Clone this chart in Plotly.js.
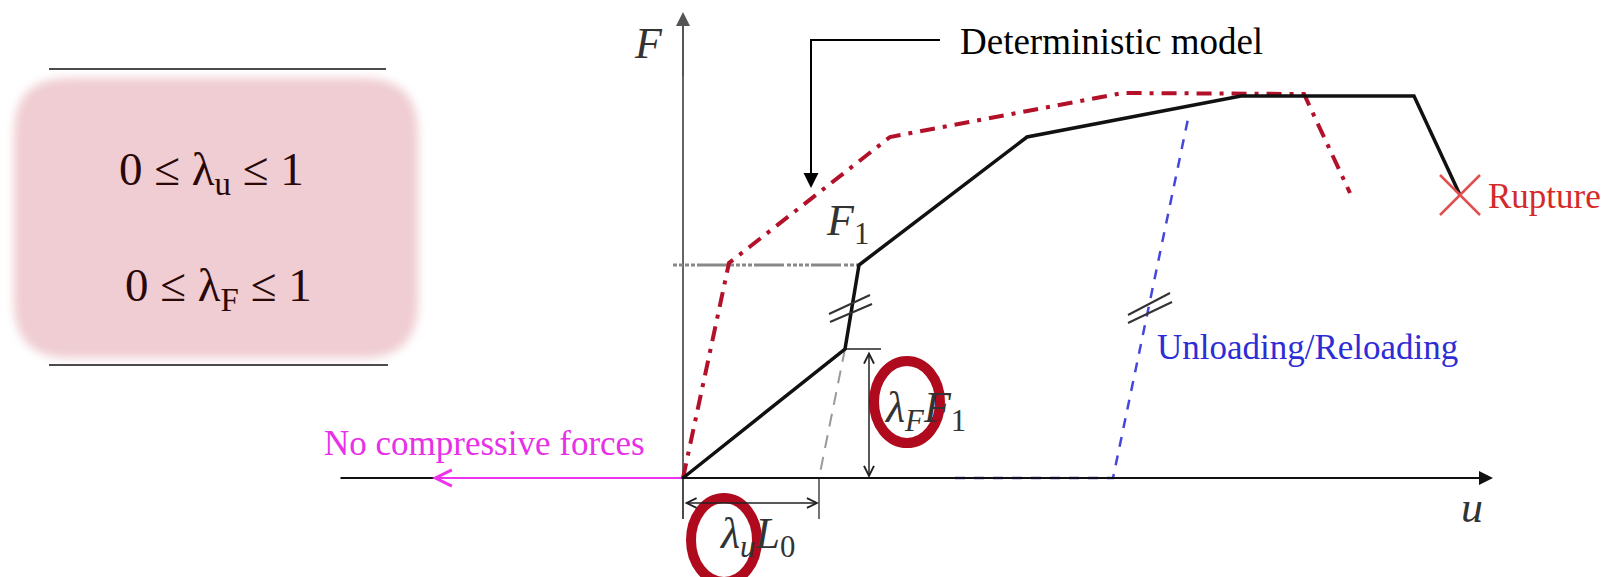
<!DOCTYPE html>
<html>
<head>
<meta charset="utf-8">
<script src="https://cdn.plot.ly/plotly-3.0.1.min.js"></script>
<style>
html,body{margin:0;padding:0;background:#fff;}
#chart{width:1611px;height:577px;}
</style>
</head>
<body>
<div id="chart"></div>
<script>
// ---- data (diagram units: u horizontal, F vertical) ----
const blackU = [0, 1.62, 1.76, 3.44, 5.58, 7.31, 7.77];
const blackF = [0, 1.29, 2.13, 3.41, 3.82, 3.82, 2.83];
const detU = [0, 0.46, 2.07, 4.40, 6.21, 6.67];
const detF = [0, 2.15, 3.41, 3.85, 3.84, 2.85];
const unloadU = [2.72, 4.30, 5.06];
const unloadF = [0, 0, 3.64];
const elasticU = [1.62, 1.36];
const elasticF = [1.29, 0];
const f1LevelU = [-0.10, 1.76];
const f1LevelF = [2.13, 2.13];
const lamFLevelU = [1.62, 1.98];
const lamFLevelF = [1.29, 1.29];
const blackBreakU = [1.46, 1.87, null, 1.47, 1.89];
const blackBreakF = [1.64, 1.83, null, 1.56, 1.74];
const blueBreakU = [4.45, 4.87, null, 4.45, 4.89];
const blueBreakF = [1.63, 1.85, null, 1.55, 1.76];
const dimTickU = [0, 0, null, 1.36, 1.36];
const dimTickF = [0, -0.41, null, 0, -0.41];
const leaderU = [2.57, 1.28, 1.28];
const leaderF = [4.38, 4.38, 2.98];
const ruptureU = [7.77];
const ruptureF = [2.83];
const yAxisU = [0, 0];
const yAxisF = [-0.41, 4.50];

const serif = 'Liberation Serif, Times New Roman, serif';

const traces = [
  {x: yAxisU, y: yAxisF, mode: 'lines', line: {color: '#666', width: 2}},
  {x: f1LevelU, y: f1LevelF, mode: 'lines', line: {color: '#888', width: 3, dash: '4px,2px,4px,2px,4px,2px,4px,2px,30px,3px'}},
  {x: lamFLevelU, y: lamFLevelF, mode: 'lines', line: {color: '#222', width: 1.5}},
  {x: dimTickU, y: dimTickF, mode: 'lines', line: {color: '#444', width: 1.5}},
  {x: elasticU, y: elasticF, mode: 'lines', line: {color: '#999', width: 2, dash: '13px,9px'}},
  {x: unloadU, y: unloadF, mode: 'lines', line: {color: '#4646dc', width: 2.5, dash: '10px,9px'}},
  {x: detU, y: detF, mode: 'lines', line: {color: '#b3102a', width: 4, dash: '15px,8px,4px,8px'}},
  {x: blackU, y: blackF, mode: 'lines', line: {color: '#111', width: 3.5}},
  {x: blackBreakU, y: blackBreakF, mode: 'lines', line: {color: '#333', width: 2}},
  {x: blueBreakU, y: blueBreakF, mode: 'lines', line: {color: '#333', width: 2}},
  {x: leaderU, y: leaderF, mode: 'lines', line: {color: '#000', width: 2}},
  {x: ruptureU, y: ruptureF, mode: 'markers', marker: {symbol: 'x-thin', size: 40, color: '#e05050', line: {color: '#e05050', width: 2.5}}}
];

function arrow(x, y, ax, ay, o) {
  return Object.assign({x: x, y: y, ax: ax, ay: ay, xref: 'x', yref: 'y', axref: 'x', ayref: 'y',
    text: '', showarrow: true, arrowhead: 2, arrowsize: 1.4, arrowwidth: 2, arrowcolor: '#000'}, o || {});
}
function label(x, y, text, o) {
  return Object.assign({x: x, y: y, xref: 'x', yref: 'y', text: text, showarrow: false,
    xanchor: 'center', yanchor: 'middle', font: {family: serif, size: 44, color: '#333'}}, o || {});
}

const annotations = [
  arrow(8.10, 0, -3.44, 0, {arrowcolor: '#111'}),
  arrow(0, 4.66, 0, 4.0, {arrowcolor: '#555'}),
  arrow(1.28, 2.90, 1.28, 3.3, {arrowsize: 1.5}),
  arrow(-2.51, 0, 0, 0, {arrowhead: 5, arrowsize: 1.6, arrowwidth: 2, arrowcolor: '#ee33ee'}),
  arrow(1.86, 0, 1.86, 1.28, {arrowhead: 5, arrowsize: 1.3, arrowwidth: 1.5, arrowcolor: '#222', arrowside: 'end+start'}),
  arrow(1.36, -0.25, 0, -0.25, {arrowhead: 5, arrowsize: 1.3, arrowwidth: 1.5, arrowcolor: '#222', arrowside: 'end+start'}),
  label(-0.35, 4.35, '<i>F</i>'),
  label(1.64, 2.55, '<i>F</i><sub>1</sub>'),
  label(7.89, -0.29, '<i>u</i>'),
  label(2.42, 0.68, '<i>λ<sub>F</sub>F</i><sub>1</sub>'),
  label(0.74, -0.58, '<i>λ<sub>u</sub>L</i><sub>0</sub>'),
  label(2.75, 4.37, 'Deterministic model', {xanchor: 'left', font: {family: serif, size: 37, color: '#000'}}),
  label(8.03, 2.82, 'Rupture', {xanchor: 'left', font: {family: serif, size: 35, color: '#d42a2a'}}),
  label(4.72, 1.31, 'Unloading/Reloading', {xanchor: 'left', font: {family: serif, size: 35, color: '#2d2dd6'}}),
  label(-3.61, 0.35, 'No compressive forces', {xanchor: 'left', font: {family: serif, size: 35, color: '#e830e8'}}),
  label(-4.72, 3.06, '0 ≤ λ<sub>u</sub> ≤ 1', {font: {family: serif, size: 47, color: '#2a0808'}}),
  label(-4.65, 1.90, '0 ≤ λ<sub>F</sub> ≤ 1', {font: {family: serif, size: 47, color: '#2a0808'}})
];

const bx0 = -6.69, bx1 = -2.65, by0 = 1.20, by1 = 4.00, r = 0.55;
const boxPath = `M${bx0 + r},${by1} L${bx1 - r},${by1} Q${bx1},${by1} ${bx1},${by1 - r} L${bx1},${by0 + r} Q${bx1},${by0} ${bx1 - r},${by0} L${bx0 + r},${by0} Q${bx0},${by0} ${bx0},${by0 + r} L${bx0},${by1 - r} Q${bx0},${by1} ${bx0 + r},${by1} Z`;

const shapes = [
  {type: 'path', path: boxPath, xref: 'x', yref: 'y', fillcolor: '#efcdd2', line: {width: 0}, layer: 'below'},
  {type: 'line', xref: 'x', yref: 'y', x0: -6.34, x1: -2.97, y0: 4.09, y1: 4.09, line: {color: '#111', width: 1.5}},
  {type: 'line', xref: 'x', yref: 'y', x0: -6.34, x1: -2.95, y0: 1.13, y1: 1.13, line: {color: '#111', width: 1.5}},
  {type: 'circle', xref: 'x', yref: 'y', x0: 2.24 - 0.33, x1: 2.24 + 0.33, y0: 0.76 - 0.41, y1: 0.76 + 0.41, line: {color: '#b00a1e', width: 10}},
  {type: 'circle', xref: 'x', yref: 'y', x0: 0.41 - 0.33, x1: 0.41 + 0.33, y0: -0.62 - 0.42, y1: -0.62 + 0.42, line: {color: '#b00a1e', width: 10}}
];

const layout = {
  width: 1611, height: 577,
  margin: {l: 0, r: 0, t: 0, b: 0},
  paper_bgcolor: '#fff', plot_bgcolor: '#fff',
  showlegend: false,
  xaxis: {range: [-6.83, 9.28], visible: false, fixedrange: true},
  yaxis: {range: [-0.99, 4.78], visible: false, fixedrange: true},
  annotations: annotations,
  shapes: shapes
};

Plotly.newPlot('chart', traces, layout, {staticPlot: true}).then(function () {
  document.querySelectorAll('.shapelayer path').forEach(function (p) {
    const f = p.style.fill || p.getAttribute('fill') || '';
    if (f.indexOf('239, 205, 210') >= 0 || f.toLowerCase() === '#efcdd2') {
      p.style.filter = 'blur(5px)';
    }
  });
});
</script>
</body>
</html>
